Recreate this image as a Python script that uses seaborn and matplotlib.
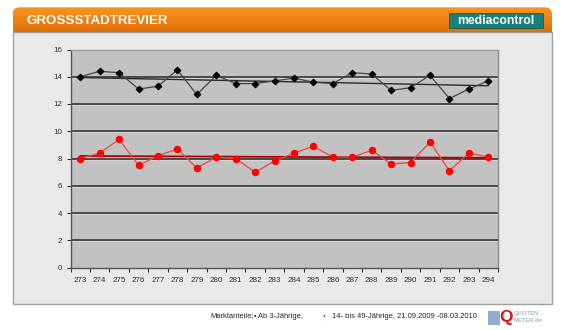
import numpy as np
import pandas as pd
import matplotlib
matplotlib.use("Agg")
import matplotlib.pyplot as plt
from matplotlib.patches import Rectangle, FancyBboxPatch
from matplotlib.colors import LinearSegmentedColormap
import seaborn as sns

# Episode numbers and market shares (%)
episodes = list(range(273, 295))
share_total = [14.0, 14.4, 14.3, 13.1, 13.3, 14.5, 12.7, 14.1, 13.5, 13.5, 13.7,
               13.9, 13.6, 13.5, 14.3, 14.2, 13.0, 13.2, 14.1, 12.4, 13.1, 13.7]
share_1449 = [8.0, 8.4, 9.4, 7.5, 8.2, 8.7, 7.3, 8.1, 8.0, 7.0, 7.8,
              8.4, 8.9, 8.1, 8.1, 8.6, 7.6, 7.7, 9.2, 7.1, 8.4, 8.1]
y_ticks = [0, 2, 4, 6, 8, 10, 12, 14, 16]

title = "GROSSSTADTREVIER"
footer_parts = ["Marktanteile;", "Ab 3-Jährige,", "14- bis 49-Jährige, 21.09.2009 -08.03.2010"]

df = pd.DataFrame({"Folge": episodes, "gesamt": share_total, "jung": share_1449})

sns.set_theme(style="white")
plt.rcParams["font.family"] = ["Liberation Sans", "DejaVu Sans"]

W, H = 570, 330
fig = plt.figure(figsize=(W / 100, H / 100), dpi=100, facecolor="white")


def fx(px):
    return px / W


def fy(py):
    return 1 - py / H


# Content panel below the header
fig.patches.append(Rectangle((fx(12.5), fy(303.5)), fx(552) - fx(12.5), fy(31.5) - fy(303.5),
                             transform=fig.transFigure, facecolor="#e8e9e8",
                             edgecolor="#a0a0a0", linewidth=1, zorder=-5))

# Orange header bar with gradient and rounded top corners
hax = fig.add_axes([fx(12.5), fy(31.7), fx(552) - fx(12.5), fy(7.3) - fy(31.7)])
hax.set_axis_off()
grad = np.linspace(0, 1, 64).reshape(-1, 1)
cmap = LinearSegmentedColormap.from_list("hdr", ["#f7961e", "#ee8212", "#e0700a"])
im = hax.imshow(grad, aspect="auto", cmap=cmap, extent=[0, 1, 0, 1], origin="upper")
hax.set_xlim(0, 1)
hax.set_ylim(0, 1)
clip = FancyBboxPatch((0, -0.6), 1, 1.6, boxstyle="round,pad=0,rounding_size=0.013",
                      transform=hax.transAxes, facecolor="none", edgecolor="none",
                      mutation_aspect=540 / 24.4)
hax.add_patch(clip)
im.set_clip_path(clip)

fig.text(fx(26.5), fy(21.5), title, color="white", fontsize=9.6, fontweight="bold",
         va="center", ha="left")

# mediacontrol badge
fig.patches.append(Rectangle((fx(449), fy(28.3)), fx(543) - fx(449), fy(13.3) - fy(28.3),
                             transform=fig.transFigure, facecolor="#17807a",
                             edgecolor="#0f5f5a", linewidth=0.6, zorder=3))
fig.text(fx(496), fy(21), "mediacontrol", color="white", fontsize=8.8, fontweight="bold",
         ha="center", va="center", zorder=4)

# Main chart
ax = fig.add_axes([fx(70.5), fy(267.5), fx(498) - fx(70.5), fy(49.5) - fy(267.5)])
ax.set_facecolor("#c2c2c2")
for yv in y_ticks[1:-1]:
    ax.axhline(yv, color="#2a2a2a", linewidth=1.1, zorder=1)
    ax.axhline(yv - 0.09, color="#dadada", linewidth=0.6, zorder=1)

sns.regplot(data=df, x="Folge", y="gesamt", ax=ax, scatter=False, ci=None,
            line_kws={"color": "#2a2a2a", "linewidth": 1.0, "zorder": 2})
sns.regplot(data=df, x="Folge", y="jung", ax=ax, scatter=False, ci=None,
            line_kws={"color": "#b00000", "linewidth": 1.3, "zorder": 2})

sns.lineplot(data=df, x="Folge", y="gesamt", ax=ax, color="#454545", linewidth=0.9,
             marker="D", markersize=3.4, markerfacecolor="black", markeredgecolor="black",
             zorder=3)
sns.lineplot(data=df, x="Folge", y="jung", ax=ax, color="#f04545", linewidth=0.9,
             marker="o", markersize=4.6, markerfacecolor="#ff0000", markeredgecolor="#ff0000",
             zorder=3)

ax.set_xlim(episodes[0] - 0.5, episodes[-1] + 0.5)
ax.set_ylim(y_ticks[0], y_ticks[-1])
ax.set_yticks(y_ticks)
ax.set_yticklabels([str(v) for v in y_ticks])
ax.set_xticks(episodes)
ax.set_xticklabels([str(e) for e in episodes])
ax.set_xticks([e + 0.5 for e in [episodes[0] - 1] + episodes], minor=True)
ax.tick_params(axis="x", which="major", length=0, pad=7, labelsize=5.8, labelcolor="#333333")
ax.tick_params(axis="x", which="minor", length=3, width=0.8, color="#333333", bottom=True)
ax.tick_params(axis="y", which="major", length=3, width=0.8, color="#333333", left=True,
               pad=3, labelsize=5.8, labelcolor="#333333")
ax.set_xlabel("")
ax.set_ylabel("")
ax.grid(False)
ax.spines["left"].set_color("#555555")
ax.spines["bottom"].set_color("#555555")
ax.spines["top"].set_color("#9a9a9a")
ax.spines["right"].set_color("#8a8a8a")
for s in ax.spines.values():
    s.set_linewidth(1.0)

# Footer legend line
fs = 5.4
fig.text(fx(210), fy(316), footer_parts[0], fontsize=fs, color="#222222", va="center", ha="left")
fig.text(fx(254.5), fy(315.5), "●", fontsize=3.0, color="black", va="center", ha="center")
fig.text(fx(258.5), fy(316), footer_parts[1], fontsize=fs, color="#222222", va="center", ha="left")
fig.text(fx(324), fy(315.5), "●", fontsize=3.0, color="#ff0000", va="center", ha="center")
fig.text(fx(332), fy(316), footer_parts[2], fontsize=fs, color="#222222", va="center", ha="left")

# Quotenmeter badge
fig.patches.append(Rectangle((fx(488), fy(325)), fx(500) - fx(488), fy(311) - fy(325),
                             transform=fig.transFigure, facecolor="#8fb0cc",
                             edgecolor="none", zorder=3))
fig.text(fx(506.5), fy(317.5), "Q", fontsize=12.5, fontweight="bold", color="#e01010",
         ha="center", va="center", zorder=4)
fig.text(fx(514), fy(313.5), "QUOTEN", fontsize=4.2, fontweight="bold", color="#a8b8c8",
         ha="left", va="center")
fig.text(fx(514), fy(321), "METER.de", fontsize=4.2, fontweight="bold", color="#a8b8c8",
         ha="left", va="center")

fig.savefig("out.png", dpi=100, facecolor="white")
